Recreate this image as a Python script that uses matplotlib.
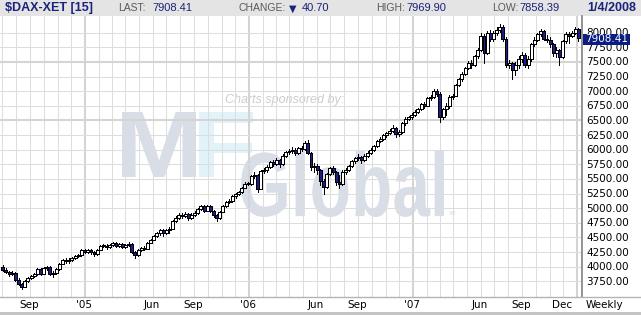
import matplotlib
matplotlib.use('Agg')
import matplotlib.pyplot as plt
import matplotlib.dates as mdates
import matplotlib.transforms as mtransforms
from matplotlib.patches import Rectangle, PathPatch
from matplotlib.lines import Line2D
from matplotlib.textpath import TextPath
from matplotlib.font_manager import FontProperties
import pandas as pd

# ---------------- data (weekly DAX Xetra, Jul 2004 - Jan 2008) ----------------
week_start = '2004-07-02'
week_end = '2008-01-04'

opens_2004 = [4000, 3950, 3910, 3870, 3890, 3780, 3700, 3660, 3750, 3800, 3840, 3870, 3960, 3880,
              3970, 3990, 3880, 3900, 3960, 4050, 4110, 4090, 4120, 4150, 4180, 4200, 4280]
closes_2004 = [3950, 3910, 3870, 3890, 3780, 3700, 3660, 3750, 3800, 3840, 3870, 3960, 3880, 3970,
               3990, 3880, 3900, 3960, 4050, 4110, 4090, 4120, 4150, 4180, 4200, 4280, 4256]
highs_2004 = [4030, 3970, 3930, 3920, 3910, 3800, 3720, 3770, 3820, 3860, 3890, 3980, 3980, 3990,
              4020, 4010, 3930, 3980, 4070, 4130, 4140, 4140, 4170, 4200, 4220, 4300, 4310]
lows_2004 = [3930, 3890, 3840, 3850, 3760, 3680, 3620, 3650, 3730, 3790, 3820, 3860, 3860, 3870,
             3950, 3850, 3830, 3880, 3950, 4040, 4070, 4070, 4100, 4130, 4160, 4190, 4240]

opens_2005 = [4256, 4280, 4250, 4220, 4290, 4350, 4360, 4340, 4370, 4410, 4360, 4380, 4340, 4370,
              4390, 4250, 4200, 4290, 4320, 4310, 4410, 4460, 4530, 4570, 4620, 4580, 4620, 4650,
              4780, 4840, 4880, 4870, 4900, 4840, 4890, 4920, 4990, 5030, 4960, 5040, 4950, 4880,
              4830, 4940, 5040, 5110, 5130, 5200, 5240, 5280, 5350, 5420]
closes_2005 = [4280, 4250, 4220, 4290, 4350, 4360, 4340, 4370, 4410, 4360, 4380, 4340, 4370, 4390,
               4250, 4200, 4290, 4320, 4310, 4410, 4460, 4530, 4570, 4620, 4580, 4620, 4650, 4780,
               4840, 4880, 4870, 4900, 4840, 4890, 4920, 4990, 5030, 4960, 5040, 4950, 4880, 4830,
               4940, 5040, 5110, 5130, 5200, 5240, 5280, 5350, 5420, 5408]
highs_2005 = [4300, 4300, 4270, 4310, 4370, 4390, 4380, 4390, 4430, 4420, 4400, 4400, 4390, 4420,
              4400, 4270, 4310, 4340, 4350, 4430, 4480, 4550, 4590, 4640, 4640, 4640, 4670, 4800,
              4860, 4910, 4920, 4930, 4920, 4910, 4950, 5010, 5060, 5050, 5060, 5060, 4970, 4900,
              4960, 5060, 5130, 5160, 5220, 5260, 5300, 5370, 5440, 5450]
lows_2005 = [4230, 4220, 4190, 4200, 4280, 4330, 4310, 4320, 4350, 4340, 4340, 4320, 4320, 4350,
             4230, 4150, 4190, 4270, 4280, 4300, 4400, 4450, 4510, 4550, 4530, 4560, 4570, 4640,
             4770, 4820, 4840, 4850, 4790, 4810, 4870, 4900, 4970, 4930, 4950, 4930, 4850, 4780,
             4820, 4930, 5020, 5080, 5110, 5180, 5220, 5260, 5340, 5390]

opens_2006 = [5408, 5550, 5560, 5330, 5630, 5650, 5700, 5790, 5760, 5820, 5750, 5900, 5960, 5970,
              6000, 5950, 6030, 6010, 6120, 5950, 5700, 5720, 5650, 5460, 5370, 5580, 5680, 5620,
              5440, 5420, 5620, 5650, 5720, 5800, 5850, 5880, 5820, 5900, 5950, 6000, 6060, 6150,
              6180, 6250, 6280, 6320, 6370, 6260, 6300, 6450, 6530, 6550]
closes_2006 = [5550, 5560, 5330, 5630, 5650, 5700, 5790, 5760, 5820, 5750, 5900, 5960, 5970, 6000,
               5950, 6030, 6010, 6120, 5950, 5700, 5720, 5650, 5460, 5370, 5580, 5680, 5620, 5440,
               5420, 5620, 5650, 5720, 5800, 5850, 5880, 5820, 5900, 5950, 6000, 6060, 6150, 6180,
               6250, 6280, 6320, 6370, 6260, 6300, 6450, 6530, 6550, 6597]
highs_2006 = [5570, 5610, 5580, 5650, 5690, 5730, 5810, 5830, 5850, 5840, 5920, 5980, 6010, 6040,
              6030, 6050, 6070, 6150, 6160, 5960, 5780, 5760, 5670, 5500, 5600, 5700, 5720, 5640,
              5560, 5660, 5690, 5740, 5820, 5870, 5920, 5900, 5920, 5980, 6030, 6080, 6170, 6220,
              6270, 6310, 6350, 6420, 6390, 6340, 6470, 6560, 6580, 6630]
lows_2006 = [5400, 5520, 5280, 5320, 5600, 5620, 5680, 5720, 5740, 5700, 5740, 5880, 5930, 5950,
             5910, 5930, 5980, 6000, 5920, 5650, 5620, 5580, 5400, 5240, 5350, 5560, 5580, 5400,
             5350, 5400, 5590, 5630, 5700, 5780, 5830, 5780, 5800, 5880, 5930, 5980, 6040, 6130,
             6160, 6220, 6260, 6300, 6220, 6240, 6290, 6430, 6500, 6530]

opens_2007 = [6597, 6650, 6700, 6780, 6750, 6880, 6900, 7000, 6960, 6560, 6700, 6750, 6900, 6920,
              7100, 7200, 7300, 7400, 7480, 7450, 7600, 7700, 7950, 7650, 8000, 7900, 8000, 8050,
              8100, 7900, 7450, 7480, 7370, 7450, 7550, 7620, 7450, 7550, 7800, 7880, 7970, 8030,
              7900, 7880, 7800, 7650, 7700, 7580, 7850, 7980, 7950, 8000, 8067]
closes_2007 = [6650, 6700, 6780, 6750, 6880, 6900, 7000, 6960, 6560, 6700, 6750, 6900, 6920, 7100,
               7200, 7300, 7400, 7480, 7450, 7600, 7700, 7950, 7650, 8000, 7900, 8000, 8050, 8100,
               7900, 7450, 7480, 7370, 7450, 7550, 7620, 7450, 7550, 7800, 7880, 7970, 8030, 7900,
               7880, 7800, 7650, 7700, 7580, 7850, 7980, 7950, 8000, 8067, 7908]
highs_2007 = [6680, 6720, 6800, 6820, 6900, 6940, 7030, 7040, 6990, 6720, 6790, 6930, 6960, 7120,
              7230, 7330, 7420, 7520, 7540, 7620, 7730, 7990, 7980, 8030, 8040, 8030, 8090, 8150,
              8130, 7920, 7530, 7500, 7500, 7600, 7670, 7660, 7600, 7830, 7920, 8000, 8070, 8050,
              7960, 7920, 7830, 7760, 7720, 7880, 8010, 8010, 8030, 8100, 8080]
lows_2007 = [6580, 6620, 6680, 6710, 6740, 6850, 6880, 6920, 6480, 6520, 6600, 6720, 6870, 6910,
             7080, 7180, 7270, 7380, 7400, 7430, 7560, 7680, 7480, 7630, 7860, 7850, 7960, 8020,
             7860, 7420, 7400, 7200, 7280, 7400, 7500, 7420, 7400, 7520, 7780, 7860, 7950, 7870,
             7840, 7760, 7600, 7590, 7450, 7560, 7830, 7820, 7930, 7980, 7860]

price_ticks = [3750, 4000, 4250, 4500, 4750, 5000, 5250, 5500, 5750, 6000,
               6250, 6500, 6750, 7000, 7250, 7500, 7750, 8000]
x_tick_dates = ['2004-09-01', '2005-01-01', '2005-06-01', '2005-09-01', '2006-01-01', '2006-06-01',
                '2006-09-01', '2007-01-01', '2007-06-01', '2007-09-01', '2007-12-01']
x_tick_labels = ['Sep', "'05", 'Jun', 'Sep', "'06", 'Jun', 'Sep', "'07", 'Jun', 'Sep', 'Dec']

symbol = '$DAX-XET [15]'
last_value = '7908.41'
change_value = '40.70'
high_value = '7969.90'
low_value = '7858.39'
date_label = '1/4/2008'

# ---------------- figure ----------------
W, H = 641, 315
fig = plt.figure(figsize=(W / 100, H / 100), dpi=100)
fig.patch.set_facecolor('white')


def fx(px):
    return px / W


def fy(py):
    return 1 - py / H


AX_TOP, AX_BOT, AX_RIGHT = 16, 297, 582
ax = fig.add_axes([0, fy(AX_BOT), fx(AX_RIGHT), fy(AX_TOP) - fy(AX_BOT)])
ax.set_facecolor('white')
for s in ax.spines.values():
    s.set_visible(False)
ax.set_xticks([])
ax.set_yticks([])

jan05 = mdates.date2num(pd.Timestamp('2005-01-01'))
px_per_day = 164 / 365.0
ax.set_xlim(jan05 - 85 / px_per_day, jan05 + (AX_RIGHT - 85) / px_per_day)
k = 0.0585  # pixels per index point; 3750 sits at y=281.3 px
ax.set_ylim(3750 - (AX_BOT - 281.3) / k, 3750 + (281.3 - AX_TOP) / k)

# gridlines
grid_c = '#DDDDDD'
thick_c = '#D4D4D4'
for m in pd.date_range('2004-07-01', '2008-01-01', freq='MS'):
    xm = mdates.date2num(m)
    thick = m.month == 1
    ax.axvline(xm, color=thick_c if thick else grid_c, lw=1.5 if thick else 0.75, zorder=1)
for v in price_ticks:
    thick = v in (6500, 7500)
    ax.axhline(v, color=thick_c if thick else grid_c, lw=1.5 if thick else 0.75, zorder=1)


# watermark (text outlines stretched to the logo's box)
def logo_text(s, x0, x1, ytop, ybot, color, weight='bold'):
    tp = TextPath((0, 0), s, size=100, prop=FontProperties(family='Liberation Sans', weight=weight))
    e = tp.get_extents()
    sx = (x1 - x0) / e.width
    sy = (ybot - ytop) / e.height
    tr = mtransforms.Affine2D().translate(-e.x0, -e.y0).scale(sx, sy).translate(x0, H - ybot)
    ax.add_patch(PathPatch(tp, transform=tr + mtransforms.IdentityTransform(), facecolor=color,
                           edgecolor='none', zorder=0.5))


wm_c = '#D8DEE8'
ax.text(fx(285), fy(100), 'Charts sponsored by:', transform=fig.transFigure, ha='center', va='center',
        fontsize=9, style='italic', color='#CDCDCD', family='Liberation Sans', zorder=0.5)
logo_text('M', 122, 196, 112, 177, wm_c)
logo_text('F', 199, 253, 112, 177, '#E1F3F9')
logo_text('Global', 241, 444, 150, 217, wm_c)
ax.text(fx(449), fy(215), 'SM', transform=fig.transFigure, ha='left', va='baseline',
        fontsize=3.5, color=wm_c, family='Liberation Sans', zorder=0.5)

# candles
opens = opens_2004 + opens_2005 + opens_2006 + opens_2007
closes = closes_2004 + closes_2005 + closes_2006 + closes_2007
highs = highs_2004 + highs_2005 + highs_2006 + highs_2007
lows = lows_2004 + lows_2005 + lows_2006 + lows_2007
weeks = pd.date_range(week_start, week_end, freq='7D')
xs = mdates.date2num(weeks)
up_c, dn_c = 'white', '#1C1C8E'
ax.vlines(xs, lows, highs, color='black', lw=0.72, zorder=2, antialiased=False)
for x, o, c in zip(xs, opens, closes):
    lo, hi = min(o, c), max(o, c)
    ax.add_patch(Rectangle((x - 3.3, lo), 6.6, max(hi - lo, 14), facecolor=up_c if c >= o else dn_c,
                           edgecolor='black', lw=0.72, zorder=3, antialiased=False))

# axes frame lines
fig.add_artist(Line2D([fx(AX_RIGHT), fx(AX_RIGHT)], [fy(AX_TOP), fy(AX_BOT)], color='#8A8A8A', lw=1.3))
fig.add_artist(Line2D([0, 1], [fy(AX_BOT), fy(AX_BOT)], color='#B4B4B4', lw=1.0))
fig.add_artist(Rectangle((0, 0), 1, fy(312), transform=fig.transFigure, facecolor='#C4C4C4', edgecolor='none'))

# y labels
for v in price_ticks:
    ypx = 281.3 - (v - 3750) * k
    fig.text(fx(586), fy(ypx + 0.5), f'{v:.2f}', ha='left', va='center', fontsize=7.5,
             family='DejaVu Sans', color='black')

# last price box (covers the neighbouring labels as in the original)
fig.add_artist(Rectangle((fx(583), fy(45)), fx(630) - fx(583), fy(33.5) - fy(45),
                         transform=fig.transFigure, facecolor='#0B1C82', edgecolor='none', zorder=5))
fig.text(fx(606.5), fy(39.3), last_value, ha='center', va='center', fontsize=7.5,
         family='DejaVu Sans', color='white', zorder=6)

# x labels
for d, lab in zip(x_tick_dates, x_tick_labels):
    xpx = 85 + (mdates.date2num(pd.Timestamp(d)) - jan05) * px_per_day
    fig.text(fx(xpx - 1), fy(305), lab, ha='center', va='center', fontsize=7.5,
             family='DejaVu Sans', color='black')
fig.text(fx(586), fy(305), 'Weekly', ha='left', va='center', fontsize=7.5,
         family='DejaVu Sans', color='black')

# header
fig.add_artist(Rectangle((0, fy(15.5)), 1, 1 - fy(15.5), transform=fig.transFigure,
                         facecolor='#E4E4E4', edgecolor='none'))
navy = '#1A237A'
gray = '#5A5A5A'
fig.text(fx(5), fy(8), symbol, ha='left', va='center', fontsize=9, weight='bold',
         family='Liberation Sans', color=navy)
fig.text(fx(118), fy(8), 'LAST:', ha='left', va='center', fontsize=7.5, family='Liberation Sans', color=gray)
fig.text(fx(152), fy(8), last_value, ha='left', va='center', fontsize=8, family='Liberation Sans', color=navy)
fig.text(fx(238), fy(8), 'CHANGE:', ha='left', va='center', fontsize=7.5, family='Liberation Sans', color=gray)
fig.text(fx(288.5), fy(8.3), '\u25BC', ha='left', va='center', fontsize=7, family='DejaVu Sans', color=navy)
fig.text(fx(302), fy(8), change_value, ha='left', va='center', fontsize=8, family='Liberation Sans', color=navy)
fig.text(fx(376), fy(8), 'HIGH:', ha='left', va='center', fontsize=7.5, family='Liberation Sans', color=gray)
fig.text(fx(406), fy(8), high_value, ha='left', va='center', fontsize=8, family='Liberation Sans', color=navy)
fig.text(fx(492), fy(8), 'LOW:', ha='left', va='center', fontsize=7.5, family='Liberation Sans', color=gray)
fig.text(fx(519), fy(8), low_value, ha='left', va='center', fontsize=8, family='Liberation Sans', color=navy)
fig.text(fx(636), fy(8), date_label, ha='right', va='center', fontsize=9, weight='bold',
         family='Liberation Sans', color=navy)

fig.savefig('out.png', dpi=100, facecolor='white')
